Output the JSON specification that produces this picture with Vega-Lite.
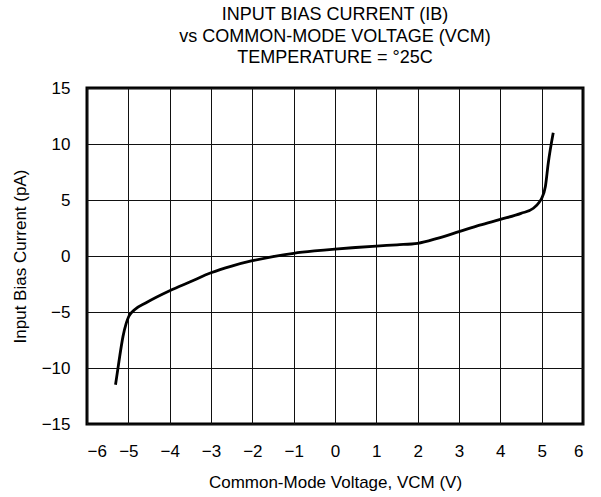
{
  "$schema": "https://vega.github.io/schema/vega-lite/v6.json",
  "autosize": "none",
  "width": 496,
  "height": 336,
  "padding": {"left": 87, "top": 88, "right": 18, "bottom": 73},
  "background": "white",
  "config": {
    "font": "Liberation Sans",
    "view": {"stroke": "black", "strokeWidth": 3},
    "axis": {
      "labelFont": "Liberation Sans",
      "titleFont": "Liberation Sans",
      "labelFontSize": 17,
      "titleFontSize": 17,
      "titleFontWeight": "normal",
      "labelColor": "black",
      "titleColor": "black",
      "domain": false,
      "ticks": false,
      "gridColor": "#111",
      "gridWidth": 1,
      "gridOpacity": 1
    }
  },
  "title": {
    "text": ["INPUT BIAS CURRENT (IB)", "vs COMMON-MODE VOLTAGE (VCM)", "TEMPERATURE = °25C"],
    "font": "Liberation Sans",
    "fontSize": 18,
    "fontWeight": "normal",
    "color": "black",
    "lineHeight": 21.5,
    "anchor": "middle",
    "offset": 12
  },
  "data": {
    "values": [
      {"v": -5.31, "i": -11.5},
      {"v": -5.25, "i": -10.0},
      {"v": -5.21, "i": -9.0},
      {"v": -5.13, "i": -7.2},
      {"v": -5.05, "i": -6.0},
      {"v": -4.99, "i": -5.4},
      {"v": -4.85, "i": -4.8},
      {"v": -4.57, "i": -4.17},
      {"v": -4.0, "i": -3.1},
      {"v": -3.5, "i": -2.3},
      {"v": -3.0, "i": -1.5},
      {"v": -2.5, "i": -0.9},
      {"v": -2.0, "i": -0.42},
      {"v": -1.5, "i": -0.05},
      {"v": -1.0, "i": 0.24},
      {"v": -0.5, "i": 0.45},
      {"v": 0.0, "i": 0.62},
      {"v": 0.5, "i": 0.76},
      {"v": 1.0, "i": 0.89},
      {"v": 1.5, "i": 1.0},
      {"v": 2.0, "i": 1.13},
      {"v": 2.5, "i": 1.6},
      {"v": 3.0, "i": 2.17},
      {"v": 3.5, "i": 2.75},
      {"v": 4.0, "i": 3.27},
      {"v": 4.5, "i": 3.81},
      {"v": 4.8, "i": 4.26},
      {"v": 4.95, "i": 4.85},
      {"v": 5.0, "i": 5.15},
      {"v": 5.09, "i": 6.2},
      {"v": 5.16, "i": 8.3},
      {"v": 5.28, "i": 11.0}
    ]
  },
  "mark": {"type": "line", "color": "black", "strokeWidth": 2.8, "interpolate": "monotone"},
  "encoding": {
    "x": {
      "field": "v",
      "type": "quantitative",
      "scale": {"domain": [-6, 6], "nice": false, "zero": false},
      "axis": {"values": [-6, -5, -4, -3, -2, -1, 0, 1, 2, 3, 4, 5, 6], "title": "Common-Mode Voltage, VCM (V)", "labelPadding": 19, "titlePadding": 15}
    },
    "y": {
      "field": "i",
      "type": "quantitative",
      "scale": {"domain": [-15, 15], "nice": false, "zero": false},
      "axis": {"values": [-15, -10, -5, 0, 5, 10, 15], "title": "Input Bias Current (pA)", "labelPadding": 17, "titlePadding": 12}
    }
  }
}
